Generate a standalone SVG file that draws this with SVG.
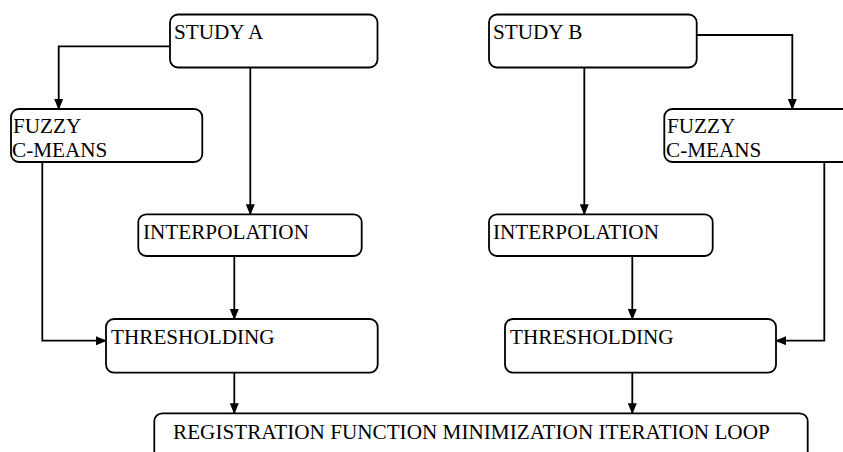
<svg xmlns="http://www.w3.org/2000/svg" width="843" height="452" viewBox="0 0 843 452">
<defs>
<marker id="ah" markerWidth="11" markerHeight="10" refX="10" refY="4.5" orient="auto" markerUnits="userSpaceOnUse">
<path d="M0,0 L11,4.5 L0,9 Z" fill="#000"/>
</marker>
<style>
.box{fill:#fff;stroke:#000;stroke-width:1.8}
.t{font-family:"Liberation Serif","Times New Roman",serif;font-size:21.2px;fill:#000}
.c{fill:none;stroke:#000;stroke-width:1.8;marker-end:url(#ah)}
</style>
</defs>
<rect width="843" height="452" fill="#fff"/>
<g id="studyA"><rect class="box" x="170" y="14.5" width="207.5" height="53" rx="8"/><text class="t" x="174" y="39">STUDY A</text></g>
<g id="fuzzyA"><rect class="box" x="11" y="109" width="191.3" height="53" rx="8"/><text class="t" x="13" y="133">FUZZY</text><text class="t" x="12" y="157">C-MEANS</text></g>
<g id="interpA"><rect class="box" x="138.3" y="214.3" width="223.4" height="41.7" rx="8"/><text class="t" x="143" y="239">INTERPOLATION</text></g>
<g id="threshA"><rect class="box" x="106" y="319" width="271.7" height="53.7" rx="8"/><text class="t" x="111" y="344">THRESHOLDING</text></g>
<g id="studyB"><rect class="box" x="489" y="14.5" width="207.7" height="53" rx="8"/><text class="t" x="493" y="39">STUDY B</text></g>
<g id="fuzzyB"><rect class="box" x="664.3" y="109" width="191.3" height="53" rx="8"/><text class="t" x="667" y="133">FUZZY</text><text class="t" x="666" y="157">C-MEANS</text></g>
<g id="interpB"><rect class="box" x="489" y="214.3" width="223.7" height="41.7" rx="8"/><text class="t" x="493" y="239">INTERPOLATION</text></g>
<g id="threshB"><rect class="box" x="505" y="319" width="271" height="53.7" rx="8"/><text class="t" x="510" y="344">THRESHOLDING</text></g>
<g id="registration"><rect class="box" x="154.3" y="413.3" width="653.4" height="60" rx="8"/><text class="t" x="173" y="438.5">REGISTRATION FUNCTION MINIMIZATION ITERATION LOOP</text></g>
<g id="connectors">
<path class="c" d="M170,46.3 H58.7 V109"/>
<path class="c" d="M250.3,67.5 V214.3"/>
<path class="c" d="M234.3,256 V319"/>
<path class="c" d="M42.3,162 V340.7 H106"/>
<path class="c" d="M234.3,372.7 V413.3"/>
<path class="c" d="M696.7,35 H792.3 V109"/>
<path class="c" d="M584.3,67.5 V214.3"/>
<path class="c" d="M632.3,256 V319"/>
<path class="c" d="M824.3,162 V340.7 H776"/>
<path class="c" d="M632.3,372.7 V413.3"/>
</g>
</svg>
